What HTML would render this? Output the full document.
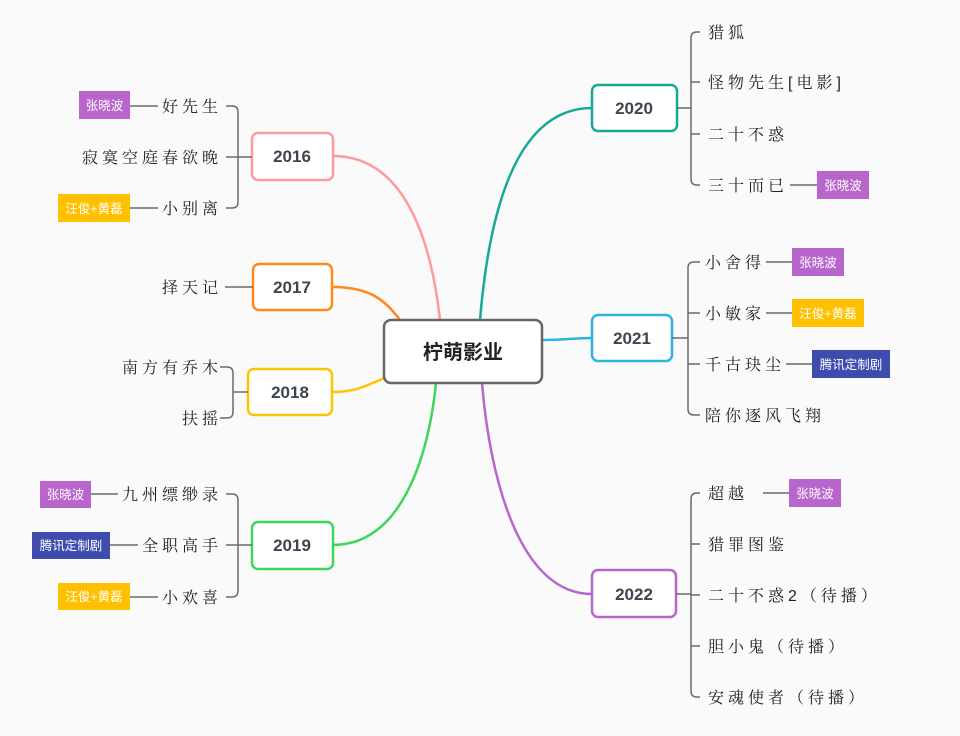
<!DOCTYPE html>
<html><head><meta charset="utf-8"><style>
body{margin:0;background:#fafafa;}
svg{display:block}
.l{font-family:"Liberation Sans","Noto Serif CJK SC","Noto Sans CJK SC",sans-serif;font-size:16px;fill:#222;letter-spacing:4px}
.y{font-family:"Liberation Sans",sans-serif;font-weight:bold;font-size:17px;fill:#3d4550;text-anchor:middle}
.t{font-family:"Liberation Sans","Noto Sans CJK SC",sans-serif;font-size:12.5px;fill:#fff;text-anchor:middle}
.br{fill:none;stroke:#666a70;stroke-width:1.5}
</style></head><body>
<svg width="960" height="736" xmlns="http://www.w3.org/2000/svg">
<rect width="960" height="736" fill="#fafafa"/>
<!-- main curves -->
<g fill="none" stroke-width="2.5">
<path d="M333,156 C400,156 430,230 440,320" stroke="#ff9a9a"/>
<path d="M332,287 C370,287 385,300 400,320" stroke="#ff8a1a"/>
<path d="M332,392 C360,392 370,383 385,378" stroke="#ffc400"/>
<path d="M333,545 C400,545 428,460 436,383" stroke="#3cd65a"/>
<path d="M592,108 C520,108 490,200 480,320" stroke="#17a89a"/>
<path d="M542,340 C565,340 575,338 592,338" stroke="#2bb5de"/>
<path d="M592,594 C520,594 490,480 482,383" stroke="#b865cc"/>
</g>
<!-- center -->
<rect x="384" y="320" width="158" height="63" rx="7" fill="#fff" stroke="#666" stroke-width="2.5"/>
<text x="463" y="359" style="font-family:'Liberation Sans','Noto Sans CJK SC',sans-serif;font-weight:bold;font-size:20px;fill:#222;text-anchor:middle">柠萌影业</text>
<!-- year nodes -->
<g fill="#fff" stroke-width="2.5">
<rect x="252" y="133" width="81" height="47" rx="6" stroke="#ff9a9a"/>
<rect x="253" y="264" width="79" height="46" rx="6" stroke="#ff8a1a"/>
<rect x="248" y="369" width="84" height="46" rx="6" stroke="#ffc400"/>
<rect x="252" y="522" width="81" height="47" rx="6" stroke="#3cd65a"/>
<rect x="592" y="85" width="85" height="46" rx="6" stroke="#17a89a"/>
<rect x="592" y="315" width="80" height="46" rx="6" stroke="#2bb5de"/>
<rect x="592" y="570" width="84" height="47" rx="6" stroke="#b865cc"/>
</g>
<text class="y" x="292" y="162">2016</text>
<text class="y" x="292" y="293">2017</text>
<text class="y" x="290" y="398">2018</text>
<text class="y" x="292" y="551">2019</text>
<text class="y" x="634" y="114">2020</text>
<text class="y" x="632" y="344">2021</text>
<text class="y" x="634" y="600">2022</text>
<!-- brackets left -->
<path class="br" d="M226,106 H232 Q238,106 238,112 V202 Q238,208 232,208 H226 M226,157 H252" />
<path class="br" d="M225,287 H253"/>
<path class="br" d="M220,367 H227 Q233,367 233,373 V412 Q233,418 227,418 H220 M233,392 H248"/>
<path class="br" d="M226,494 H232 Q238,494 238,500 V591 Q238,597 232,597 H226 M226,545 H252"/>
<!-- brackets right -->
<path class="br" d="M700,32 H697 Q691,32 691,38 V179 Q691,185 697,185 H700 M691,82 H700 M691,134 H700 M677,108 H691"/>
<path class="br" d="M700,262 H694 Q688,262 688,268 V409 Q688,415 694,415 H700 M688,313 H700 M688,364 H700 M672,338 H688"/>
<path class="br" d="M700,493 H697 Q691,493 691,499 V691 Q691,697 697,697 H700 M691,544 H700 M691,595 H700 M691,646 H700 M676,594 H691"/>
<!-- tag connectors -->
<path class="br" d="M130,106 H158 M130,208 H158 M91,494 H118 M110,545 H138 M130,597 H158 M790,185 H817 M766,262 H792 M766,313 H792 M786,364 H812 M763,493 H789"/>
<!-- left labels -->
<g class="l" text-anchor="end">
<text x="222" y="112">好先生</text>
<text x="222" y="163">寂寞空庭春欲晚</text>
<text x="222" y="214">小别离</text>
<text x="222" y="293">择天记</text>
<text x="222" y="373">南方有乔木</text>
<text x="222" y="424">扶摇</text>
<text x="222" y="500">九州缥缈录</text>
<text x="222" y="551">全职高手</text>
<text x="222" y="603">小欢喜</text>
</g>
<g class="l">
<text x="708" y="38">猎狐</text>
<text x="708" y="88">怪物先生[电影]</text>
<text x="708" y="140">二十不惑</text>
<text x="708" y="191">三十而已</text>
<text x="705" y="268">小舍得</text>
<text x="705" y="319">小敏家</text>
<text x="705" y="370">千古玦尘</text>
<text x="705" y="421">陪你逐风飞翔</text>
<text x="708" y="499">超越</text>
<text x="708" y="550">猎罪图鉴</text>
<text x="708" y="601">二十不惑2（待播）</text>
<text x="708" y="652">胆小鬼（待播）</text>
<text x="708" y="703">安魂使者（待播）</text>
</g>
<!-- tags -->
<g>
<rect x="79" y="91" width="51" height="28" fill="#b865cc"/><text class="t" x="104.5" y="110">张晓波</text>
<rect x="58" y="194" width="72" height="28" fill="#ffc000"/><text class="t" x="94" y="213">汪俊+黄磊</text>
<rect x="40" y="481" width="51" height="27" fill="#b865cc"/><text class="t" x="65.5" y="499">张晓波</text>
<rect x="32" y="532" width="78" height="27" fill="#3d4cad"/><text class="t" x="71" y="550">腾讯定制剧</text>
<rect x="58" y="583" width="72" height="27" fill="#ffc000"/><text class="t" x="94" y="601">汪俊+黄磊</text>
<rect x="817" y="171" width="52" height="28" fill="#b865cc"/><text class="t" x="843" y="190">张晓波</text>
<rect x="792" y="248" width="52" height="28" fill="#b865cc"/><text class="t" x="818" y="267">张晓波</text>
<rect x="792" y="299" width="72" height="28" fill="#ffc000"/><text class="t" x="828" y="318">汪俊+黄磊</text>
<rect x="812" y="350" width="78" height="28" fill="#3d4cad"/><text class="t" x="851" y="369">腾讯定制剧</text>
<rect x="789" y="479" width="52" height="28" fill="#b865cc"/><text class="t" x="815" y="498">张晓波</text>
</g>
</svg>
</body></html>
